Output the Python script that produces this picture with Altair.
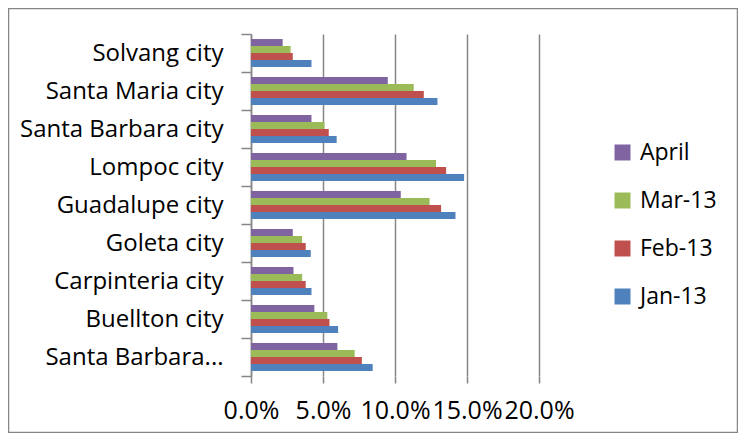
import altair as alt
import pandas as pd

cities = ["Solvang city", "Santa Maria city", "Santa Barbara city", "Lompoc city",
          "Guadalupe city", "Goleta city", "Carpinteria city", "Buellton city",
          "Santa Barbara..."]
series = ["April", "Mar-13", "Feb-13", "Jan-13"]
april = [2.2, 9.5, 4.2, 10.8, 10.4, 2.9, 2.95, 4.4, 6.0]
mar13 = [2.75, 11.3, 5.1, 12.85, 12.4, 3.55, 3.55, 5.3, 7.2]
feb13 = [2.9, 12.0, 5.4, 13.55, 13.2, 3.8, 3.8, 5.45, 7.7]
jan13 = [4.2, 12.95, 5.95, 14.8, 14.2, 4.15, 4.2, 6.05, 8.45]
colors = ["#8064A2", "#9BBB59", "#C0504D", "#4F81BD"]
x_ticks = [0, 0.05, 0.10, 0.15, 0.20]

rows = []
for s, vals in zip(series, [april, mar13, feb13, jan13]):
    for c, v in zip(cities, vals):
        rows.append({"city": c, "series": s, "value": v / 100.0})
df = pd.DataFrame(rows)

FONT = "Open Sans"
GRID = "#868686"

bars = alt.Chart(df).mark_bar().encode(
    x=alt.X("value:Q", scale=alt.Scale(domain=[0, 0.2], nice=False),
            axis=alt.Axis(title=None, format=".1%", values=x_ticks, grid=True,
                          gridColor=GRID, gridWidth=1.5, domain=False,
                          ticks=True, tickSize=7, tickColor=GRID, tickWidth=1.5,
                          labelFont=FONT, labelFontSize=25, labelColor="black",
                          labelPadding=15, labelFlush=False)),
    y=alt.Y("city:N", sort=cities,
            scale=alt.Scale(paddingInner=0, paddingOuter=0),
            axis=alt.Axis(title=None, tickBand="extent",
                          domain=True, domainColor=GRID, domainWidth=1.5,
                          ticks=True, tickSize=10, tickColor=GRID, tickWidth=1.5,
                          labelFont=FONT, labelFontSize=24, labelColor="black",
                          labelPadding=18, labelLimit=300)),
    yOffset=alt.YOffset("series:N", sort=series,
                        scale=alt.Scale(paddingInner=0, paddingOuter=0.72)),
    color=alt.Color("series:N", sort=series,
                    scale=alt.Scale(domain=series, range=colors),
                    legend=alt.Legend(title=None, orient="none", legendX=360,
                                      legendY=107, symbolType="square",
                                      symbolSize=256, symbolStrokeWidth=0,
                                      symbolOpacity=1, labelFont=FONT,
                                      labelFontSize=23, labelColor="black",
                                      labelOffset=6, rowPadding=24, padding=0)),
)

frame = alt.Chart(pd.DataFrame({"a": [0]})).mark_rect(
    fill=None, stroke=GRID, strokeWidth=1.5
).encode(
    x=alt.value(-242.5), x2=alt.value(486.5),
    y=alt.value(-25.5), y2=alt.value(398.5)
)

chart = alt.layer(bars, frame).properties(
    width=288, height=342,
    autosize=alt.AutoSizeParams(type="none"),
    padding={"left": 243, "top": 26, "right": 199, "bottom": 57},
).configure_view(stroke=None)

chart.save("out.html", embed_options={"renderer": "svg", "actions": False})
